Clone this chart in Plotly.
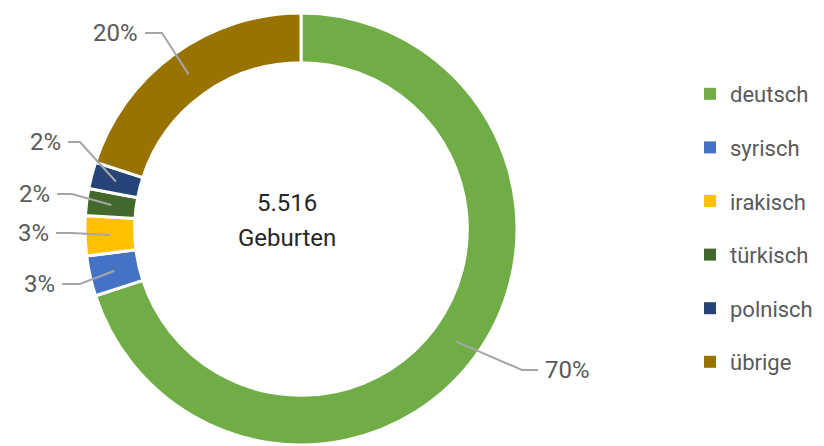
import math
import plotly.graph_objects as go

# data
labels = ['deutsch', 'syrisch', 'irakisch', 'türkisch', 'polnisch', 'übrige']
shares = [70, 3, 3, 2, 2, 20]
pct_text = ['70%', '3%', '3%', '2%', '2%', '20%']
births_total = '5.516'
births_word = 'Geburten'

colors = ['#70AD47', '#4472C4', '#FFC000', '#43682B', '#264478', '#997300']

# page body has an 8px margin: figure is offset by 8px, and made a bit wider
# than the window so the legend never pushes the plot margins
OFF = 8
W, H = 840, 446 - OFF
cx, cy, r_out = 301, 229, 216   # in window pixels
hole = 0.77
FONT = 'Roboto, sans-serif'

# leader line elbow / end (window pixels) and which side the label sits on
label_layout = [
    (522, 370, 538, 'left'),
    (80, 284, 62, 'right'),
    (72, 233, 56, 'right'),
    (72, 194, 57, 'right'),
    (80, 142, 68, 'right'),
    (162, 33, 145, 'right'),
]


def px(x, y):
    return (x - OFF) / W, 1 - (y - OFF) / H


fig = go.Figure()
dx0, dy1 = px(cx - r_out, cy - r_out)
dx1, dy0 = px(cx + r_out, cy + r_out)
fig.add_trace(go.Pie(
    labels=labels, values=shares, hole=hole, sort=False,
    direction='clockwise', rotation=0, textinfo='none',
    marker=dict(colors=colors, line=dict(color='white', width=3)),
    domain=dict(x=[dx0, dx1], y=[max(dy0, 0), min(dy1, 1)]),
    showlegend=False, hoverinfo='label+percent',
))

# legend entries
for lab, col in zip(labels, colors):
    fig.add_trace(go.Scatter(
        x=[None], y=[None], mode='markers', name=lab, legendgroup=lab,
        marker=dict(symbol='square', size=10, color=col),
    ))

# leader lines and percentage labels
total = sum(shares)
r_mid = r_out * (1 + hole) / 2
cum = 0
shapes, annos = [], []
for v, txt, (ex, ey, lx, side) in zip(shares, pct_text, label_layout):
    theta = math.radians(360 * (cum + v / 2) / total)
    cum += v
    ax_, ay_ = cx + r_mid * math.sin(theta), cy - r_mid * math.cos(theta)
    p0, p1, p2 = px(ax_, ay_), px(ex, ey), px(lx, ey)
    shapes.append(dict(
        type='path', xref='paper', yref='paper',
        path=f'M {p0[0]},{p0[1]} L {p1[0]},{p1[1]} L {p2[0]},{p2[1]}',
        line=dict(color='#A6A6A6', width=2),
    ))
    tx = lx + 5 if side == 'left' else lx - 5
    tpos = px(tx, ey)
    annos.append(dict(
        x=tpos[0], y=tpos[1], xref='paper', yref='paper', text=txt,
        showarrow=False, xanchor=side, yanchor='middle',
        font=dict(family=FONT, size=24, color='#595959'),
    ))

c1 = px(287, 203)
c2 = px(287, 238)
annos.append(dict(x=c1[0], y=c1[1], xref='paper', yref='paper', text=births_total,
                  showarrow=False, xanchor='center', yanchor='middle',
                  font=dict(family=FONT, size=24, color='#262626')))
annos.append(dict(x=c2[0], y=c2[1], xref='paper', yref='paper', text=births_word,
                  showarrow=False, xanchor='center', yanchor='middle',
                  font=dict(family=FONT, size=24, color='#262626')))

lx0, ly0 = px(690, 73)
fig.update_layout(
    width=W, height=H,
    margin=dict(l=0, r=0, t=0, b=0),
    paper_bgcolor='white', plot_bgcolor='white',
    xaxis=dict(visible=False), yaxis=dict(visible=False),
    shapes=shapes, annotations=annos,
    legend=dict(
        x=lx0, y=ly0, xanchor='left', yanchor='top',
        font=dict(family=FONT, size=22, color='#595959'),
        tracegroupgap=22, itemsizing='constant', bgcolor='rgba(0,0,0,0)',
    ),
)

fig.write_html('out.html')
